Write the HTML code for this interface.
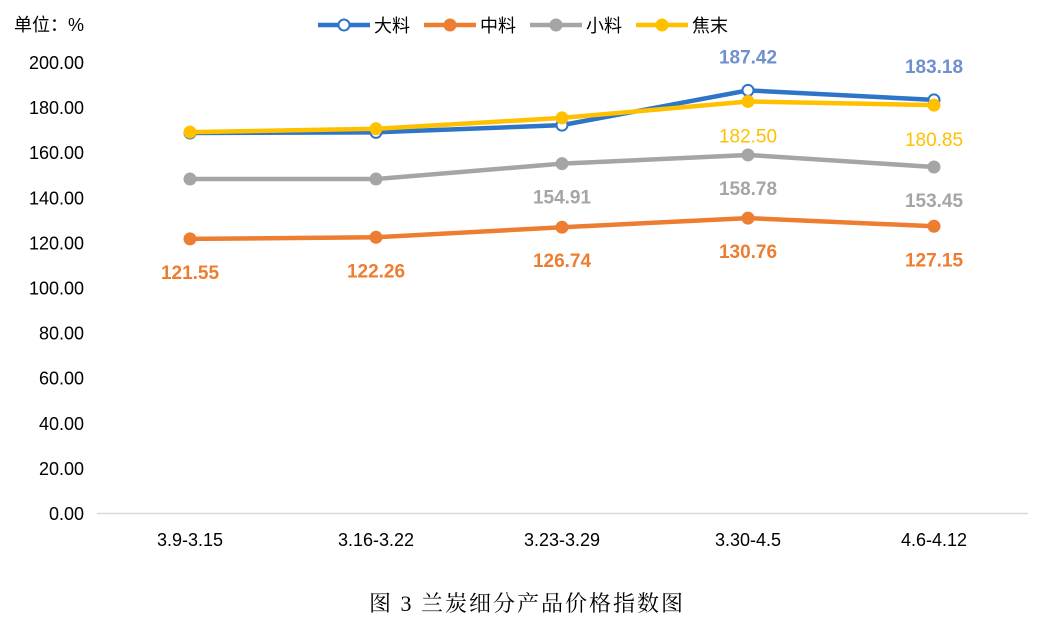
<!DOCTYPE html>
<html><head><meta charset="utf-8">
<style>
body{margin:0;background:#fff;width:1045px;height:626px;overflow:hidden}
svg text{font-family:"Liberation Sans","Noto Sans CJK SC",sans-serif}
</style></head>
<body>
<svg id="chart" width="1045" height="626" xmlns="http://www.w3.org/2000/svg">
<text x="14" y="31" font-size="18" fill="#000">单位：%</text>
<g id="yaxis"></g>
<g id="xaxis"></g>
<g id="series"></g>
<g id="legend"></g>
<text x="527" y="611" font-size="22" letter-spacing="2" text-anchor="middle" fill="#000" style="font-family:'Liberation Serif','Noto Serif CJK SC',serif">图 3  兰炭细分产品价格指数图</text>
</svg>
<script>
const categories=["3.9-3.15","3.16-3.22","3.23-3.29","3.30-4.5","4.6-4.12"];
const yTicks=[0,20,40,60,80,100,120,140,160,180,200];
const seriesNames=["大料","中料","小料","焦末"];
const dataDa=[168.5,168.8,172.0,187.42,183.18];
const dataZhong=[121.55,122.26,126.74,130.76,127.15];
const dataXiao=[148.1,148.1,154.91,158.78,153.45];
const dataJiao=[168.9,170.4,175.2,182.50,180.85];
const NS="http://www.w3.org/2000/svg";
function mk(tag,attrs,parent){const e=document.createElementNS(NS,tag);for(const k in attrs)e.setAttribute(k,attrs[k]);parent.appendChild(e);return e;}
const y=v=>513-v*2.255;
const x=i=>190+i*186;
const ya=document.getElementById('yaxis');
yTicks.forEach(t=>{const tx=mk('text',{x:84,y:y(t)+7,'font-size':18,'text-anchor':'end',fill:'#000'},ya);tx.textContent=t.toFixed(2);

});
const xa=document.getElementById('xaxis');
const ax=mk('line',{x1:97,x2:1028,y1:513.5,y2:513.5,stroke:'#d9d9d9','stroke-width':1.5},xa);


categories.forEach((c,i)=>{const tx=mk('text',{x:x(i),y:546,'font-size':18,'text-anchor':'middle',fill:'#000'},xa);tx.textContent=c;

});
const sg=document.getElementById('series');
const defs=[
 {name:'da',data:dataDa,color:'#2e75c8',hollow:true,labelColor:'#6f8fcf',bold:true,labels:[3,4],dy:-27},
 {name:'zhong',data:dataZhong,color:'#ed7d31',hollow:false,labelColor:'#ed7d31',bold:true,labels:[0,1,2,3,4],dy:40},
 {name:'xiao',data:dataXiao,color:'#a5a5a5',hollow:false,labelColor:'#a5a5a5',bold:true,labels:[2,3,4],dy:40},
 {name:'jiao',data:dataJiao,color:'#ffc000',hollow:false,labelColor:'#ffc000',bold:false,labels:[3,4],dy:41}
];
defs.forEach(s=>{
 const g=mk('g',{},sg);
 
 
 const pl=mk('polyline',{points:s.data.map((v,i)=>x(i)+','+y(v)).join(' '),fill:'none',stroke:s.color,'stroke-width':4.5,'stroke-linejoin':'round'},g);
 
 
 s.data.forEach((v,i)=>{const c=mk('circle',{cx:x(i),cy:y(v),r:s.hollow?5.5:6.5,fill:s.hollow?'#fff':s.color,stroke:s.color,'stroke-width':s.hollow?2:0},g);
  
  });
});
defs.forEach(s=>{
 s.labels.forEach(i=>{const t=mk('text',{x:x(i),y:y(s.data[i])+s.dy,'font-size':19,'text-anchor':'middle',fill:s.labelColor,'font-weight':s.bold?'bold':'normal'},sg);
  t.textContent=s.data[i].toFixed(2);
  
  });
});
const lg=document.getElementById('legend');
const lx=[318,424,530,636];
seriesNames.forEach((n,i)=>{const s=defs[i];
 const g=mk('g',{},lg);
 
 
 mk('line',{x1:lx[i],x2:lx[i]+52,y1:25,y2:25,stroke:s.color,'stroke-width':4.5},g);
 mk('circle',{cx:lx[i]+26,cy:25,r:s.hollow?5.5:6.5,fill:s.hollow?'#fff':s.color,stroke:s.color,'stroke-width':s.hollow?2:0},g);
 const t=mk('text',{x:lx[i]+56,y:32,'font-size':18,fill:'#000'},g);t.textContent=n;
});
</script>
</body></html>
